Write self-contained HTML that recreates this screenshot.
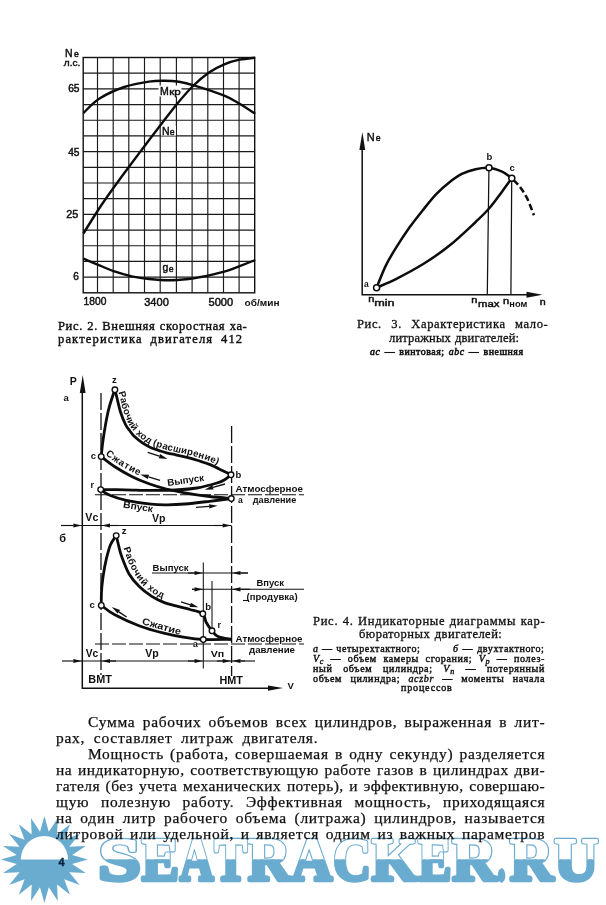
<!DOCTYPE html>
<html lang="ru"><head><meta charset="utf-8"><title>Рис. 2–4</title>
<style>
html,body{margin:0;padding:0;background:#fff;}
body{width:606px;height:905px;overflow:hidden;position:relative;}
svg{position:absolute;left:0;top:0;display:block;}
.bl sub{font-size:0.8em;font-style:italic;vertical-align:-0.2em;line-height:0;}
.bl{position:absolute;white-space:nowrap;font-family:"Liberation Serif",serif;color:#111;text-align:justify;text-align-last:justify;transform-origin:0 0;white-space:normal;overflow:visible;}

</style></head><body>
<svg width="606" height="905" viewBox="0 0 606 905">
<rect width="606" height="905" fill="#fff"/>
<g id="figures">
<path d="M97.50 57.50V292.80M113.20 57.50V292.80M128.80 57.50V292.80M144.50 57.50V292.80M160.20 57.50V292.80M176.40 57.50V292.80M192.10 57.50V292.80M207.80 57.50V292.80M223.50 57.50V292.80M239.10 57.50V292.80M83.20 73.19H254.70M83.20 88.87H254.70M83.20 104.56H254.70M83.20 120.25H254.70M83.20 135.93H254.70M83.20 151.62H254.70M83.20 167.31H254.70M83.20 182.99H254.70M83.20 198.68H254.70M83.20 214.37H254.70M83.20 230.05H254.70M83.20 245.74H254.70M83.20 261.43H254.70M83.20 277.11H254.70" stroke="#1a1a1a" stroke-width="1.15" fill="none"/>
<rect x="83.2" y="57.5" width="171.5" height="235.3" stroke="#111" stroke-width="1.4" fill="none"/>
<rect x="158.5" y="85.5" width="23" height="11" fill="#fff"/>
<rect x="161" y="126" width="15" height="9.6" fill="#fff"/>
<rect x="161.5" y="262" width="13" height="11.5" fill="#fff"/>
<path d="M83.4 233.5 C86.1 229.2 94.5 215.6 99.5 208.0 C104.5 200.4 108.5 194.9 113.4 188.0 C118.4 181.1 123.9 173.6 129.2 166.5 C134.5 159.4 139.7 152.5 145.0 145.5 C150.3 138.5 155.7 131.4 161.0 124.5 C166.3 117.6 171.7 110.4 177.0 104.0 C182.3 97.6 187.7 91.2 193.0 86.0 C198.3 80.8 203.8 76.1 209.0 72.5 C214.2 68.9 219.2 66.4 224.3 64.3 C229.4 62.2 234.3 60.8 239.5 59.7 C244.7 58.6 252.6 58.0 255.2 57.7" stroke="#0c0c0c" stroke-width="2.4" fill="none" stroke-linecap="butt"/>
<path d="M83.4 113.0 C86.1 110.6 92.7 102.8 99.5 98.5 C106.3 94.2 116.0 89.8 124.3 87.0 C132.6 84.2 142.2 82.6 149.0 81.6 C155.8 80.6 160.0 80.8 165.0 80.8 C170.0 80.8 174.1 81.0 179.0 81.8 C183.9 82.6 187.0 83.3 194.6 85.6 C202.2 87.9 216.7 92.6 224.3 95.7 C231.9 98.8 234.8 101.0 240.0 104.0 C245.2 107.0 252.7 112.2 255.2 113.8" stroke="#0c0c0c" stroke-width="2.4" fill="none" stroke-linecap="butt"/>
<path d="M83.4 258.7 C86.1 259.8 94.3 263.3 99.5 265.4 C104.7 267.5 109.0 269.6 114.4 271.4 C119.8 273.2 125.9 275.0 131.7 276.3 C137.5 277.6 142.8 278.4 149.0 279.0 C155.2 279.6 162.2 280.2 168.8 280.2 C175.4 280.2 183.5 279.5 188.6 279.0 C193.7 278.5 193.6 278.5 199.5 277.3 C205.4 276.1 217.7 273.4 224.3 271.6 C230.9 269.8 233.9 268.2 239.1 266.3 C244.2 264.4 252.5 261.1 255.2 260.0" stroke="#0c0c0c" stroke-width="2.4" fill="none" stroke-linecap="butt"/>
<path d="M362.2 148V294.8H530" stroke="#111" stroke-width="1.5" fill="none"/>
<polygon points="362.4,132 365.2,150 359.4,150" fill="#111"/>
<polygon points="542.5,294.8 526.5,291.8 526.5,297.8" fill="#111"/>
<path d="M488.9 170L487.3 294M511.7 181L510.9 294" stroke="#111" stroke-width="1.25" fill="none"/>
<path d="M376.6 287.7 C378.1 284.0 382.5 272.4 385.8 265.6 C389.1 258.8 392.4 253.5 396.4 247.1 C400.4 240.7 405.2 233.5 409.6 227.3 C414.0 221.2 418.4 215.7 422.8 210.2 C427.2 204.7 431.6 198.9 436.0 194.3 C440.4 189.7 444.8 185.8 449.2 182.4 C453.6 179.0 458.0 175.9 462.4 173.7 C466.8 171.5 471.2 170.2 475.6 169.2 C480.0 168.2 484.6 167.4 489.0 167.8 C493.4 168.2 498.2 170.0 502.0 171.7 C505.8 173.4 510.2 177.1 511.8 178.2" stroke="#0c0c0c" stroke-width="2.5" fill="none"/>
<path d="M376.6 287.7 C379.9 286.2 388.7 282.7 396.4 278.8 C404.1 274.9 414.0 269.8 422.8 264.3 C431.6 258.8 440.4 252.9 449.2 245.8 C458.0 238.8 469.0 228.2 475.6 222.0 C482.2 215.8 484.4 213.9 488.8 208.8 C493.2 203.8 498.2 196.8 502.0 191.7 C505.8 186.6 510.2 180.4 511.8 178.2" stroke="#0c0c0c" stroke-width="2.5" fill="none"/>
<path d="M513.5 180.0 C514.6 181.2 517.8 184.0 520.0 187.0 C522.2 190.0 524.7 193.3 527.0 198.0 C529.3 202.7 532.8 212.4 534.0 215.3" stroke="#0c0c0c" stroke-width="2.5" fill="none" stroke-dasharray="6.5 3.2"/>
<circle cx="376.6" cy="287.7" r="3.0" fill="#fff" stroke="#0c0c0c" stroke-width="1.5"/>
<circle cx="489.0" cy="167.8" r="3.0" fill="#fff" stroke="#0c0c0c" stroke-width="1.5"/>
<circle cx="511.8" cy="178.2" r="3.0" fill="#fff" stroke="#0c0c0c" stroke-width="1.5"/>
<path d="M82.3 390V688.2H270" stroke="#111" stroke-width="1.5" fill="none"/>
<polygon points="82.7,375 85.6,393 79.8,393" fill="#111"/>
<polygon points="283,688 268,685.4 268,690.8" fill="#111"/>
<path d="M101 393V675" stroke="#111" stroke-width="1.3" fill="none" stroke-dasharray="17 3"/>
<path d="M231.6 426V676" stroke="#111" stroke-width="1.3" fill="none" stroke-dasharray="17 3"/>
<path d="M95 494.8H304" stroke="#111" stroke-width="1.1" fill="none" stroke-dasharray="14 3"/>
<path d="M95 644H304" stroke="#111" stroke-width="1.1" fill="none" stroke-dasharray="14 3"/>
<path d="M101.2 456.6 C101.5 453.7 102.1 446.4 103.2 439.0 C104.3 431.6 106.4 419.3 108.0 412.0 C109.6 404.7 111.8 398.7 113.0 395.0 C114.2 391.3 114.6 390.7 114.9 389.8" stroke="#0c0c0c" stroke-width="2.8" fill="none"/>
<path d="M114.9 389.8 C115.2 391.2 116.1 394.3 117.0 398.0 C117.9 401.7 119.1 407.6 120.5 412.0 C121.9 416.4 124.0 421.4 125.5 424.5 C127.0 427.6 128.1 428.5 129.6 430.5 C131.1 432.5 132.3 434.5 134.5 436.6 C136.7 438.7 140.1 441.4 142.8 443.2 C145.6 445.0 148.2 446.5 151.0 447.7 C153.8 448.9 156.6 449.7 159.3 450.6 C162.1 451.5 164.8 452.4 167.5 453.1 C170.2 453.8 172.9 454.2 175.8 454.8 C178.7 455.4 181.3 455.9 185.0 456.9 C188.7 457.8 193.9 459.2 198.0 460.5 C202.1 461.8 205.1 462.6 209.5 464.4 C213.9 466.2 220.8 469.8 224.4 471.5 C228.0 473.2 229.9 474.2 231.0 474.8" stroke="#0c0c0c" stroke-width="2.8" fill="none"/>
<path d="M101.2 456.6 C103.4 458.2 109.3 463.2 114.4 466.5 C119.5 469.8 125.9 473.5 131.7 476.4 C137.5 479.3 143.2 481.6 149.0 483.7 C154.8 485.8 160.3 487.5 166.3 489.0 C172.3 490.5 177.6 491.6 184.8 492.8 C192.0 494.1 201.8 495.6 209.5 496.5 C217.2 497.4 227.7 498.2 231.3 498.5" stroke="#0c0c0c" stroke-width="2.8" fill="none"/>
<path d="M231.0 474.8 C230.0 475.6 227.3 478.1 225.0 479.5 C222.7 480.9 221.7 481.6 217.0 483.0 C212.3 484.4 204.0 486.8 197.0 488.0 C190.0 489.2 182.8 489.6 175.0 490.0 C167.2 490.4 158.3 490.4 150.0 490.4 C141.7 490.4 133.2 489.9 125.0 489.8 C116.8 489.7 104.8 489.6 100.7 489.6" stroke="#0c0c0c" stroke-width="2.8" fill="none"/>
<path d="M100.7 489.6 C102.2 490.6 105.5 493.5 109.8 495.3 C114.1 497.1 119.4 498.9 126.3 500.4 C133.2 501.9 144.1 503.5 151.0 504.2 C157.9 504.9 161.8 504.8 167.5 504.8 C173.2 504.8 178.0 504.6 185.0 504.0 C192.0 503.4 201.8 502.2 209.5 501.3 C217.2 500.4 227.7 499.0 231.3 498.5" stroke="#0c0c0c" stroke-width="2.8" fill="none"/>
<path d="M101.3 605.4 C101.3 602.9 101.2 595.4 101.6 590.3 C101.9 585.1 102.6 579.8 103.4 574.5 C104.2 569.2 105.2 563.7 106.4 558.7 C107.6 553.8 108.9 548.6 110.5 544.8 C112.1 540.9 115.2 537.1 116.2 535.6" stroke="#0c0c0c" stroke-width="2.8" fill="none"/>
<path d="M116.2 535.6 C116.6 537.2 117.6 541.5 118.5 545.0 C119.4 548.5 119.9 551.8 121.7 556.6 C123.5 561.4 126.2 569.0 129.1 574.0 C132.0 579.0 135.3 582.6 139.0 586.3 C142.7 590.0 147.3 593.5 151.4 596.2 C155.5 598.9 159.3 600.7 163.8 602.4 C168.3 604.1 174.2 605.4 178.6 606.6 C183.0 607.8 186.0 608.3 190.0 609.5 C194.0 610.7 200.1 611.7 202.8 613.8 C205.5 615.9 204.5 619.2 206.0 622.0 C207.5 624.8 210.0 628.4 212.0 630.8 C214.0 633.2 214.7 635.1 218.0 636.5 C221.3 637.9 229.5 638.9 231.8 639.4" stroke="#0c0c0c" stroke-width="2.8" fill="none"/>
<path d="M101.3 605.4 C103.5 606.9 108.0 611.1 114.3 614.5 C120.6 617.9 130.8 622.6 139.0 625.7 C147.2 628.8 156.2 631.2 163.8 633.1 C171.4 635.0 178.2 636.3 184.8 637.4 C191.4 638.5 195.5 639.2 203.3 639.5 C211.1 639.8 227.1 639.4 231.8 639.4" stroke="#0c0c0c" stroke-width="2.8" fill="none"/>
<path d="M203.3 562.5V668.5M212 581V628" stroke="#111" stroke-width="1.05" fill="none"/>
<path d="M75 525.5H231.6" stroke="#111" stroke-width="1.1"/>
<line x1="61.0" y1="525.5" x2="73.3" y2="525.5" stroke="#111" stroke-width="1.15"/><polygon points="81.8,525.5 73.3,527.6 73.3,523.4" fill="#111"/>
<line x1="118.0" y1="525.5" x2="110.0" y2="525.5" stroke="#111" stroke-width="1.15"/><polygon points="101.5,525.5 110.0,523.4 110.0,527.6" fill="#111"/>
<line x1="214.0" y1="525.5" x2="222.7" y2="525.5" stroke="#111" stroke-width="1.15"/><polygon points="231.2,525.5 222.7,527.6 222.7,523.4" fill="#111"/>
<path d="M75 661H245" stroke="#111" stroke-width="1.1"/>
<line x1="62.0" y1="661.0" x2="73.3" y2="661.0" stroke="#111" stroke-width="1.15"/><polygon points="81.8,661.0 73.3,663.1 73.3,658.9" fill="#111"/>
<line x1="116.0" y1="661.0" x2="110.0" y2="661.0" stroke="#111" stroke-width="1.15"/><polygon points="101.5,661.0 110.0,658.9 110.0,663.1" fill="#111"/>
<line x1="188.0" y1="661.0" x2="194.5" y2="661.0" stroke="#111" stroke-width="1.15"/><polygon points="203.0,661.0 194.5,663.1 194.5,658.9" fill="#111"/>
<line x1="217.0" y1="661.0" x2="222.7" y2="661.0" stroke="#111" stroke-width="1.15"/><polygon points="231.2,661.0 222.7,663.1 222.7,658.9" fill="#111"/>
<line x1="255.0" y1="661.0" x2="240.5" y2="661.0" stroke="#111" stroke-width="1.15"/><polygon points="232.0,661.0 240.5,658.9 240.5,663.1" fill="#111"/>
<path d="M152 573H248" stroke="#111" stroke-width="1.1"/>
<line x1="188.0" y1="573.0" x2="194.5" y2="573.0" stroke="#111" stroke-width="1.15"/><polygon points="203.0,573.0 194.5,575.1 194.5,570.9" fill="#111"/>
<line x1="248.0" y1="573.0" x2="240.5" y2="573.0" stroke="#111" stroke-width="1.15"/><polygon points="232.0,573.0 240.5,570.9 240.5,575.1" fill="#111"/>
<path d="M192 589.3H304" stroke="#111" stroke-width="1.1"/>
<line x1="192.0" y1="589.3" x2="194.5" y2="589.3" stroke="#111" stroke-width="1.15"/><polygon points="203.0,589.3 194.5,591.4 194.5,587.2" fill="#111"/>
<line x1="250.0" y1="589.3" x2="240.5" y2="589.3" stroke="#111" stroke-width="1.15"/><polygon points="232.0,589.3 240.5,587.2 240.5,591.4" fill="#111"/>
<path d="M243 600.5H249" stroke="#111" stroke-width="1.1"/>
<line x1="147.7" y1="452.3" x2="159.4" y2="456.2" stroke="#111" stroke-width="1.40"/><polygon points="167.5,458.9 158.7,458.3 160.1,454.1" fill="#111"/>
<line x1="160.0" y1="480.3" x2="148.5" y2="476.9" stroke="#111" stroke-width="1.40"/><polygon points="140.3,474.5 149.1,474.8 147.8,479.0" fill="#111"/>
<line x1="225.0" y1="484.0" x2="212.9" y2="487.4" stroke="#111" stroke-width="1.40"/><polygon points="204.7,489.7 212.3,485.3 213.5,489.5" fill="#111"/>
<line x1="196.1" y1="507.4" x2="209.1" y2="506.4" stroke="#111" stroke-width="1.40"/><polygon points="217.6,505.8 209.3,508.6 209.0,504.2" fill="#111"/>
<line x1="126.6" y1="617.0" x2="118.8" y2="611.8" stroke="#111" stroke-width="1.40"/><polygon points="111.8,607.0 120.1,609.9 117.6,613.6" fill="#111"/>
<line x1="181.0" y1="601.9" x2="190.3" y2="604.8" stroke="#111" stroke-width="1.40"/><polygon points="198.4,607.3 189.6,606.9 190.9,602.7" fill="#111"/>
<circle cx="114.9" cy="389.8" r="2.8" fill="#fff" stroke="#0c0c0c" stroke-width="1.35"/>
<circle cx="101.2" cy="456.6" r="2.8" fill="#fff" stroke="#0c0c0c" stroke-width="1.35"/>
<circle cx="100.7" cy="489.6" r="2.8" fill="#fff" stroke="#0c0c0c" stroke-width="1.35"/>
<circle cx="231.0" cy="474.8" r="2.8" fill="#fff" stroke="#0c0c0c" stroke-width="1.35"/>
<circle cx="231.3" cy="498.5" r="2.8" fill="#fff" stroke="#0c0c0c" stroke-width="1.35"/>
<circle cx="116.2" cy="535.6" r="2.8" fill="#fff" stroke="#0c0c0c" stroke-width="1.35"/>
<circle cx="101.3" cy="605.4" r="2.8" fill="#fff" stroke="#0c0c0c" stroke-width="1.35"/>
<circle cx="202.8" cy="613.8" r="2.8" fill="#fff" stroke="#0c0c0c" stroke-width="1.35"/>
<circle cx="212.0" cy="630.8" r="2.8" fill="#fff" stroke="#0c0c0c" stroke-width="1.35"/>
<circle cx="203.3" cy="639.5" r="2.8" fill="#fff" stroke="#0c0c0c" stroke-width="1.35"/>
<path id="tpA" d="M118.5 392.3 L118.8 393.4 L119.1 394.6 L119.5 395.9 L119.8 397.3 L120.2 398.8 L120.6 400.5 L121.0 402.2 L121.4 404.1 L121.8 405.9 L122.3 407.7 L122.8 409.5 L123.3 411.1 L123.8 412.7 L124.4 414.4 L125.0 416.0 L125.7 417.7 L126.3 419.2 L126.9 420.7 L127.5 422.0 L128.1 423.2 L128.6 424.2 L129.0 424.9 L129.5 425.6 L129.9 426.2 L130.3 426.7 L130.8 427.3 L131.3 428.0 L131.9 428.8 L132.5 429.6 L133.0 430.3 L133.6 431.0 L134.1 431.8 L134.6 432.5 L135.2 433.1 L135.8 433.8 L136.5 434.5 L137.3 435.3 L138.2 436.1 L139.2 436.9 L140.2 437.7 L141.3 438.6 L142.4 439.3 L143.4 440.1 L144.4 440.8 L145.4 441.4 L146.4 442.0 L147.3 442.6 L148.3 443.1 L149.3 443.6 L150.2 444.1 L151.2 444.6 L152.2 445.0 L153.1 445.5 L154.1 445.8 L155.1 446.2 L156.1 446.5 L157.1 446.9 L158.1 447.2 L159.1 447.5 L160.2 447.8 L161.2 448.2 L162.2 448.5 L163.3 448.8 L164.3 449.2 L165.3 449.5 L166.2 449.8 L167.2 450.0 L168.2 450.3 L169.2 450.5 L170.1 450.7 L171.1 450.9 L172.1 451.1 L173.2 451.3 L174.2 451.5 L175.3 451.7 L176.4 452.0 L177.5 452.2 L178.6 452.4 L179.6 452.7 L180.7 452.9 L181.9 453.2 L183.1 453.4 L184.4 453.7 L185.7 454.1 L187.2 454.5 L188.8 454.9 L190.4 455.3 L192.1 455.8 L193.9 456.3 L195.6 456.8 L197.2 457.2 L198.8 457.7 L200.3 458.2 L201.7 458.6 L203.1 459.0 L204.5 459.5 L205.9 459.9 L207.4 460.5 L209.0 461.1 L210.6 461.7 L212.4 462.5 L214.4 463.4 L216.5 464.4 L218.5 465.4 L220.6 466.4 L222.5 467.3 L224.2 468.2 L225.7 468.9 L226.9 469.5 L228.1 470.1 L229.1 470.6 L229.9 471.0 L230.7 471.4 L231.3 471.7 L231.9 472.0 L232.3 472.2" fill="none"/>
<path id="tpC" d="M105.2 454.6 C107.1 456.0 111.7 459.9 116.4 463.0 C121.2 466.1 127.9 470.0 133.7 472.9 C139.5 475.8 148.1 479.0 151.0 480.2" fill="none"/>
<path id="tpB" d="M123.5 548.0 C124.2 550.2 126.2 556.7 128.0 561.0 C129.8 565.3 131.9 569.8 134.5 574.0 C137.1 578.2 140.1 582.6 143.5 586.0 C146.9 589.4 151.2 592.2 155.0 594.5 C158.8 596.8 164.2 599.1 166.0 600.0" fill="none"/>
</g>
<g id="labels" fill="#111">
<text x="64.9" y="56.5" font-family="&quot;Liberation Sans&quot;, sans-serif" font-size="10.50" stroke="#111" stroke-width="0.45">N</text>
<text x="74.0" y="56.8" font-family="&quot;Liberation Sans&quot;, sans-serif" font-size="8.70" stroke="#111" stroke-width="0.45">е</text>
<text x="63.8" y="65.7" font-family="&quot;Liberation Sans&quot;, sans-serif" font-size="9.50" textLength="16.5" lengthAdjust="spacingAndGlyphs" stroke="#111" stroke-width="0.45">л.с.</text>
<text x="68.2" y="92.1" font-family="&quot;Liberation Sans&quot;, sans-serif" font-size="10.00" textLength="11.3" lengthAdjust="spacingAndGlyphs" stroke="#111" stroke-width="0.45">65</text>
<text x="68.2" y="156.4" font-family="&quot;Liberation Sans&quot;, sans-serif" font-size="10.00" textLength="11.3" lengthAdjust="spacingAndGlyphs" stroke="#111" stroke-width="0.45">45</text>
<text x="66.2" y="218.4" font-family="&quot;Liberation Sans&quot;, sans-serif" font-size="10.00" textLength="12.0" lengthAdjust="spacingAndGlyphs" stroke="#111" stroke-width="0.45">25</text>
<text x="73.2" y="280.3" font-family="&quot;Liberation Sans&quot;, sans-serif" font-size="10.00" stroke="#111" stroke-width="0.45">6</text>
<text x="83.6" y="304.8" font-family="&quot;Liberation Sans&quot;, sans-serif" font-size="10.40" textLength="22.8" lengthAdjust="spacingAndGlyphs" stroke="#111" stroke-width="0.45">1800</text>
<text x="144.2" y="306.3" font-family="&quot;Liberation Sans&quot;, sans-serif" font-size="10.40" textLength="24.6" lengthAdjust="spacingAndGlyphs" stroke="#111" stroke-width="0.45">3400</text>
<text x="208.5" y="306.3" font-family="&quot;Liberation Sans&quot;, sans-serif" font-size="10.40" textLength="24.6" lengthAdjust="spacingAndGlyphs" stroke="#111" stroke-width="0.45">5000</text>
<text x="244.5" y="306.3" font-family="&quot;Liberation Sans&quot;, sans-serif" font-size="9.30" textLength="35.0" lengthAdjust="spacingAndGlyphs" font-weight="bold">об/мин</text>
<text x="159.9" y="94.5" font-family="&quot;Liberation Sans&quot;, sans-serif" font-size="10.50" stroke="#111" stroke-width="0.45">М</text>
<text x="169.3" y="94.6" font-family="&quot;Liberation Sans&quot;, sans-serif" font-size="9.50" textLength="11.5" lengthAdjust="spacingAndGlyphs" stroke="#111" stroke-width="0.45">кр</text>
<text x="161.9" y="134.7" font-family="&quot;Liberation Sans&quot;, sans-serif" font-size="10.50" stroke="#111" stroke-width="0.45">N</text>
<text x="169.8" y="134.9" font-family="&quot;Liberation Sans&quot;, sans-serif" font-size="8.70" stroke="#111" stroke-width="0.45">е</text>
<text x="162.6" y="270.5" font-family="&quot;Liberation Sans&quot;, sans-serif" font-size="10.50" stroke="#111" stroke-width="0.45">g</text>
<text x="168.7" y="272.4" font-family="&quot;Liberation Sans&quot;, sans-serif" font-size="8.70" stroke="#111" stroke-width="0.45">е</text>
<text x="366.8" y="141.0" font-family="&quot;Liberation Sans&quot;, sans-serif" font-size="11.00" stroke="#111" stroke-width="0.45">N</text>
<text x="375.7" y="141.2" font-family="&quot;Liberation Sans&quot;, sans-serif" font-size="8.70" stroke="#111" stroke-width="0.45">е</text>
<text x="486.5" y="160.0" font-family="&quot;Liberation Sans&quot;, sans-serif" font-size="9.50" font-weight="bold">b</text>
<text x="509.5" y="170.5" font-family="&quot;Liberation Sans&quot;, sans-serif" font-size="9.50" font-weight="bold">c</text>
<text x="364.0" y="287.0" font-family="&quot;Liberation Sans&quot;, sans-serif" font-size="8.50" font-weight="bold">a</text>
<text transform="translate(368.2,302.0) scale(1.300,1)" font-family="&quot;Liberation Sans&quot;, sans-serif" font-size="8.50" stroke="#111" stroke-width="0.45">n</text>
<text x="374.2" y="306.4" font-family="&quot;Liberation Sans&quot;, sans-serif" font-size="9.20" textLength="20.4" lengthAdjust="spacingAndGlyphs" stroke="#111" stroke-width="0.45">min</text>
<text transform="translate(471.2,303.2) scale(1.300,1)" font-family="&quot;Liberation Sans&quot;, sans-serif" font-size="8.50" stroke="#111" stroke-width="0.45">n</text>
<text x="478.0" y="306.8" font-family="&quot;Liberation Sans&quot;, sans-serif" font-size="9.20" textLength="21.5" lengthAdjust="spacingAndGlyphs" stroke="#111" stroke-width="0.45">max</text>
<text transform="translate(502.9,303.8) scale(1.300,1)" font-family="&quot;Liberation Sans&quot;, sans-serif" font-size="8.50" stroke="#111" stroke-width="0.45">n</text>
<text x="509.3" y="306.6" font-family="&quot;Liberation Sans&quot;, sans-serif" font-size="8.30" textLength="18.0" lengthAdjust="spacingAndGlyphs" font-weight="bold">ном</text>
<text transform="translate(539.8,304.8) scale(1.250,1)" font-family="&quot;Liberation Sans&quot;, sans-serif" font-size="8.50" stroke="#111" stroke-width="0.45">n</text>
<text x="69.8" y="385.2" font-family="&quot;Liberation Sans&quot;, sans-serif" font-size="10.50" font-weight="bold">P</text>
<text x="63.6" y="401.0" font-family="&quot;Liberation Sans&quot;, sans-serif" font-size="9.50" font-weight="bold">a</text>
<text x="112.0" y="383.0" font-family="&quot;Liberation Sans&quot;, sans-serif" font-size="9.50" font-weight="bold">z</text>
<text x="90.8" y="459.3" font-family="&quot;Liberation Sans&quot;, sans-serif" font-size="9.50" font-weight="bold">c</text>
<text x="90.6" y="487.6" font-family="&quot;Liberation Sans&quot;, sans-serif" font-size="9.00" font-weight="bold">r</text>
<text x="235.5" y="478.0" font-family="&quot;Liberation Sans&quot;, sans-serif" font-size="9.50" font-weight="bold">b</text>
<text x="238.0" y="502.7" font-family="&quot;Liberation Sans&quot;, sans-serif" font-size="8.50" font-weight="bold">a</text>
<text x="235.5" y="492.0" font-family="&quot;Liberation Sans&quot;, sans-serif" font-size="9.60" textLength="67.5" lengthAdjust="spacingAndGlyphs" font-weight="bold">Атмосферное</text>
<text x="252.8" y="502.6" font-family="&quot;Liberation Sans&quot;, sans-serif" font-size="9.60" textLength="43.5" lengthAdjust="spacingAndGlyphs" font-weight="bold">давление</text>
<text x="85.3" y="521.2" font-family="&quot;Liberation Sans&quot;, sans-serif" font-size="10.50" textLength="13.0" lengthAdjust="spacingAndGlyphs" font-weight="bold">Vc</text>
<text x="151.9" y="522.0" font-family="&quot;Liberation Sans&quot;, sans-serif" font-size="10.50" textLength="13.5" lengthAdjust="spacingAndGlyphs" font-weight="bold">Vp</text>
<text x="59.3" y="541.5" font-family="&quot;Liberation Sans&quot;, sans-serif" font-size="11.00" font-weight="bold">б</text>
<text x="121.7" y="534.3" font-family="&quot;Liberation Sans&quot;, sans-serif" font-size="9.50" font-weight="bold">z</text>
<text x="89.5" y="608.4" font-family="&quot;Liberation Sans&quot;, sans-serif" font-size="9.50" font-weight="bold">c</text>
<text x="152.6" y="571.0" font-family="&quot;Liberation Sans&quot;, sans-serif" font-size="9.80" textLength="36.0" lengthAdjust="spacingAndGlyphs" font-weight="bold">Выпуск</text>
<text x="256.5" y="586.0" font-family="&quot;Liberation Sans&quot;, sans-serif" font-size="9.80" textLength="27.5" lengthAdjust="spacingAndGlyphs" font-weight="bold">Впуск</text>
<text x="246.6" y="600.2" font-family="&quot;Liberation Sans&quot;, sans-serif" font-size="9.50" textLength="51.0" lengthAdjust="spacingAndGlyphs" font-weight="bold">(продувка)</text>
<text x="205.3" y="609.8" font-family="&quot;Liberation Sans&quot;, sans-serif" font-size="9.50" font-weight="bold">b</text>
<text x="217.4" y="627.9" font-family="&quot;Liberation Sans&quot;, sans-serif" font-size="9.00" font-weight="bold">r</text>
<text x="193.0" y="647.0" font-family="&quot;Liberation Sans&quot;, sans-serif" font-size="8.50" font-weight="bold">a</text>
<text x="235.5" y="641.6" font-family="&quot;Liberation Sans&quot;, sans-serif" font-size="9.60" textLength="67.0" lengthAdjust="spacingAndGlyphs" font-weight="bold">Атмосферное</text>
<text x="249.0" y="652.8" font-family="&quot;Liberation Sans&quot;, sans-serif" font-size="9.60" textLength="46.0" lengthAdjust="spacingAndGlyphs" font-weight="bold">давление</text>
<text x="85.8" y="656.6" font-family="&quot;Liberation Sans&quot;, sans-serif" font-size="10.00" textLength="12.5" lengthAdjust="spacingAndGlyphs" font-weight="bold">Vc</text>
<text x="145.2" y="656.6" font-family="&quot;Liberation Sans&quot;, sans-serif" font-size="10.00" textLength="13.5" lengthAdjust="spacingAndGlyphs" font-weight="bold">Vp</text>
<text x="210.7" y="657.4" font-family="&quot;Liberation Sans&quot;, sans-serif" font-size="9.50" textLength="13.5" lengthAdjust="spacingAndGlyphs" font-weight="bold">Vп</text>
<text x="88.3" y="682.6" font-family="&quot;Liberation Sans&quot;, sans-serif" font-size="10.00" textLength="23.5" lengthAdjust="spacingAndGlyphs" font-weight="bold">ВМТ</text>
<text x="219.4" y="683.6" font-family="&quot;Liberation Sans&quot;, sans-serif" font-size="10.00" textLength="23.5" lengthAdjust="spacingAndGlyphs" font-weight="bold">НМТ</text>
<text x="287.5" y="688.7" font-family="&quot;Liberation Sans&quot;, sans-serif" font-size="9.50" font-weight="bold">V</text>
<text font-family="&quot;Liberation Sans&quot;, sans-serif" font-size="9.6" font-weight="bold" fill="#111"><textPath href="#tpA" textLength="134" lengthAdjust="spacing">Рабочий ход (расширение)</textPath></text>
<text font-family="&quot;Liberation Sans&quot;, sans-serif" font-size="9.6" font-weight="bold" fill="#111"><textPath href="#tpB" textLength="66" lengthAdjust="spacing">Рабочий ход</textPath></text>
<text font-family="&quot;Liberation Sans&quot;, sans-serif" font-size="9.8" font-weight="bold" fill="#111"><textPath href="#tpC" textLength="40" lengthAdjust="spacing">Сжатие</textPath></text>
<text transform="translate(167.8,486) rotate(-8)" font-family="&quot;Liberation Sans&quot;, sans-serif" font-size="9.6" font-weight="bold" fill="#111" textLength="37" lengthAdjust="spacingAndGlyphs">Выпуск</text>
<text transform="translate(122.8,507.6) rotate(9)" font-family="&quot;Liberation Sans&quot;, sans-serif" font-size="9.6" font-weight="bold" fill="#111" textLength="30" lengthAdjust="spacingAndGlyphs">Впуск</text>
<text transform="translate(141.5,624) rotate(16)" font-family="&quot;Liberation Sans&quot;, sans-serif" font-size="9.6" font-weight="bold" fill="#111" textLength="40" lengthAdjust="spacingAndGlyphs">Сжатие</text>
<text x="58.4" y="866.4" font-family="&quot;Liberation Sans&quot;, sans-serif" font-size="11.00" font-weight="bold" fill="#16324f" stroke="#16324f" stroke-width="0.4">4</text>
</g>
</svg>
<div class="bl" style="left:88.0px;top:713.24px;font-size:15.00px;line-height:18px;letter-spacing:0.72px;transform:scaleX(1.030);width:444.0px;-webkit-text-stroke:0.25px #111;">Сумма рабочих объемов всех цилиндров, выраженная в лит-</div>
<div class="bl" style="left:56.0px;top:729.24px;font-size:15.00px;line-height:18px;letter-spacing:0.72px;transform:scaleX(1.030);width:254.7px;-webkit-text-stroke:0.25px #111;">рах, составляет литраж двигателя.</div>
<div class="bl" style="left:88.0px;top:745.24px;font-size:15.00px;line-height:18px;letter-spacing:0.72px;transform:scaleX(1.030);width:444.0px;-webkit-text-stroke:0.25px #111;">Мощность (работа, совершаемая в одну секунду) разделяется</div>
<div class="bl" style="left:56.0px;top:761.24px;font-size:15.00px;line-height:18px;letter-spacing:0.51px;transform:scaleX(1.030);width:474.9px;-webkit-text-stroke:0.25px #111;">на индикаторную, соответствующую работе газов в цилиндрах дви-</div>
<div class="bl" style="left:56.0px;top:777.24px;font-size:15.00px;line-height:18px;letter-spacing:0.44px;transform:scaleX(1.030);width:474.8px;-webkit-text-stroke:0.25px #111;">гателя (без учета механических потерь), и эффективную, совершаю-</div>
<div class="bl" style="left:56.0px;top:793.24px;font-size:15.00px;line-height:18px;letter-spacing:0.72px;transform:scaleX(1.030);width:475.1px;-webkit-text-stroke:0.25px #111;">щую полезную работу. Эффективная мощность, приходящаяся</div>
<div class="bl" style="left:56.0px;top:809.24px;font-size:15.00px;line-height:18px;letter-spacing:0.72px;transform:scaleX(1.030);width:475.1px;-webkit-text-stroke:0.25px #111;">на один литр рабочего объема (литража) цилиндров, называется</div>
<div class="bl" style="left:56.0px;top:825.24px;font-size:15.00px;line-height:18px;letter-spacing:0.72px;transform:scaleX(1.030);width:475.1px;-webkit-text-stroke:0.25px #111;">литровой или удельной, и является одним из важных параметров</div>
<div class="bl" style="left:58.4px;top:318.78px;font-size:12.20px;line-height:15px;letter-spacing:0.61px;transform:scaleX(1.030);width:183.9px;-webkit-text-stroke:0.40px #111;">Рис. 2. Внешняя скоростная ха-</div>
<div class="bl" style="left:58.4px;top:331.98px;font-size:12.20px;line-height:15px;letter-spacing:1.10px;transform:scaleX(1.030);width:179.9px;-webkit-text-stroke:0.40px #111;">рактеристика двигателя 412</div>
<div class="bl" style="left:357.0px;top:317.38px;font-size:12.20px;line-height:15px;letter-spacing:0.60px;transform:scaleX(1.030);width:185.8px;-webkit-text-stroke:0.30px #111;">Рис. 3. Характеристика мало-</div>
<div class="bl" style="left:389.4px;top:330.58px;font-size:12.20px;line-height:15px;letter-spacing:0.15px;transform:scaleX(1.030);width:126.4px;-webkit-text-stroke:0.30px #111;">литражных двигателей:</div>
<div class="bl" style="left:370.3px;top:345.76px;font-size:9.60px;line-height:12px;letter-spacing:0.50px;transform:scaleX(1.030);width:149.0px;-webkit-text-stroke:0.55px #111;"><i>aс</i> — винтовая; <i>abc</i> — внешняя</div>
<div class="bl" style="left:312.6px;top:614.38px;font-size:12.20px;line-height:15px;letter-spacing:0.69px;transform:scaleX(1.030);width:225.7px;-webkit-text-stroke:0.30px #111;">Рис. 4. Индикаторные диаграммы кар-</div>
<div class="bl" style="left:359.2px;top:626.88px;font-size:12.20px;line-height:15px;letter-spacing:0.44px;transform:scaleX(1.030);width:139.1px;-webkit-text-stroke:0.30px #111;">бюраторных двигателей:</div>
<div class="bl" style="left:313.3px;top:643.23px;font-size:9.70px;line-height:12px;letter-spacing:0.54px;transform:scaleX(1.040);width:103.3px;-webkit-text-stroke:0.40px #111;"><i>а</i> — четырехтактного;</div>
<div class="bl" style="left:453.3px;top:643.23px;font-size:9.70px;line-height:12px;letter-spacing:0.57px;transform:scaleX(1.040);width:88.0px;-webkit-text-stroke:0.40px #111;"><i>б</i> — двухтактного;</div>
<div class="bl" style="left:312.8px;top:653.23px;font-size:9.70px;line-height:12px;letter-spacing:0.60px;transform:scaleX(1.040);width:223.1px;-webkit-text-stroke:0.40px #111;"><i>V</i><sub>c</sub> — объем камеры сгорания; <i>V</i><sub>p</sub> — полез-</div>
<div class="bl" style="left:312.8px;top:663.23px;font-size:9.70px;line-height:12px;letter-spacing:0.60px;transform:scaleX(1.040);width:223.1px;-webkit-text-stroke:0.40px #111;">ный объем цилиндра; <i>V</i><sub>п</sub> — потерянный</div>
<div class="bl" style="left:312.8px;top:672.93px;font-size:9.70px;line-height:12px;letter-spacing:0.60px;transform:scaleX(1.040);width:223.1px;-webkit-text-stroke:0.40px #111;">объем цилиндра; <i>aczbr</i> — моменты начала</div>
<div class="bl" style="left:401.3px;top:682.43px;font-size:9.70px;line-height:12px;letter-spacing:0.78px;transform:scaleX(1.040);width:50.5px;-webkit-text-stroke:0.40px #111;">процессов</div>
<svg width="606" height="905" viewBox="0 0 606 905" style="mix-blend-mode:multiply">
<g id="watermark">
<polygon points="0.9,859.5 16.7,855.1 3.0,846.1 19.5,846.8 9.2,833.9 24.6,839.7 18.8,824.3 31.7,834.6 31.0,818.1 40.0,831.8 44.4,816.0 48.8,831.8 57.8,818.1 57.1,834.6 70.0,824.3 64.2,839.7 79.6,833.9 69.3,846.8 85.8,846.1 72.1,855.1 87.9,859.5 72.1,863.9 85.8,872.9 69.3,872.2 79.6,885.1 64.2,879.3 70.0,894.7 57.1,884.4 57.8,900.9 48.8,887.2 44.4,903.0 40.0,887.2 31.0,900.9 31.7,884.4 18.8,894.7 24.6,879.3 9.2,885.1 19.5,872.2 3.0,872.9 16.7,863.9" fill="#6aabd0"/>
<path d="M20.8 859.5A23.6 23.6 0 0 1 68.0 859.5Z" fill="#fff"/>
<defs><clipPath id="ct"><rect x="90" y="820" width="516" height="39.6"/></clipPath><clipPath id="cb"><rect x="90" y="859.6" width="516" height="45.4"/></clipPath></defs>
<g clip-path="url(#ct)"><text y="880.3" font-family="&quot;Liberation Serif&quot;, serif" font-weight="bold" font-size="62" stroke-linejoin="round" fill="#6aabd0" stroke="#6aabd0" stroke-width="4.4"><tspan x="98.2" textLength="42.6" lengthAdjust="spacingAndGlyphs">S</tspan><tspan x="141.7" textLength="37.1" lengthAdjust="spacingAndGlyphs">E</tspan><tspan x="179.7" textLength="33.9" lengthAdjust="spacingAndGlyphs">A</tspan><tspan x="214.5" textLength="32.6" lengthAdjust="spacingAndGlyphs">T</tspan><tspan x="248.0" textLength="42.7" lengthAdjust="spacingAndGlyphs">R</tspan><tspan x="291.6" textLength="40.7" lengthAdjust="spacingAndGlyphs">A</tspan><tspan x="333.2" textLength="37.7" lengthAdjust="spacingAndGlyphs">C</tspan><tspan x="371.8" textLength="45.5" lengthAdjust="spacingAndGlyphs">K</tspan><tspan x="418.2" textLength="33.1" lengthAdjust="spacingAndGlyphs">E</tspan><tspan x="452.2" textLength="44.4" lengthAdjust="spacingAndGlyphs">R</tspan><tspan x="497.5" textLength="8.1" lengthAdjust="spacingAndGlyphs">.</tspan><tspan x="510.0" textLength="43.3" lengthAdjust="spacingAndGlyphs">R</tspan><tspan x="554.2" textLength="44.1" lengthAdjust="spacingAndGlyphs">U</tspan></text>
<text y="880.3" font-family="&quot;Liberation Serif&quot;, serif" font-weight="bold" font-size="62" stroke-linejoin="round" fill="#fff" stroke="#fff" stroke-width="2.0" aria-hidden="true"><tspan x="98.2" textLength="42.6" lengthAdjust="spacingAndGlyphs">S</tspan><tspan x="141.7" textLength="37.1" lengthAdjust="spacingAndGlyphs">E</tspan><tspan x="179.7" textLength="33.9" lengthAdjust="spacingAndGlyphs">A</tspan><tspan x="214.5" textLength="32.6" lengthAdjust="spacingAndGlyphs">T</tspan><tspan x="248.0" textLength="42.7" lengthAdjust="spacingAndGlyphs">R</tspan><tspan x="291.6" textLength="40.7" lengthAdjust="spacingAndGlyphs">A</tspan><tspan x="333.2" textLength="37.7" lengthAdjust="spacingAndGlyphs">C</tspan><tspan x="371.8" textLength="45.5" lengthAdjust="spacingAndGlyphs">K</tspan><tspan x="418.2" textLength="33.1" lengthAdjust="spacingAndGlyphs">E</tspan><tspan x="452.2" textLength="44.4" lengthAdjust="spacingAndGlyphs">R</tspan><tspan x="497.5" textLength="8.1" lengthAdjust="spacingAndGlyphs">.</tspan><tspan x="510.0" textLength="43.3" lengthAdjust="spacingAndGlyphs">R</tspan><tspan x="554.2" textLength="44.1" lengthAdjust="spacingAndGlyphs">U</tspan></text></g>
<text y="880.3" font-family="&quot;Liberation Serif&quot;, serif" font-weight="bold" font-size="62" stroke-linejoin="round" fill="#6aabd0" stroke="#6aabd0" stroke-width="4.4" clip-path="url(#cb)" aria-hidden="true"><tspan x="98.2" textLength="42.6" lengthAdjust="spacingAndGlyphs">S</tspan><tspan x="141.7" textLength="37.1" lengthAdjust="spacingAndGlyphs">E</tspan><tspan x="179.7" textLength="33.9" lengthAdjust="spacingAndGlyphs">A</tspan><tspan x="214.5" textLength="32.6" lengthAdjust="spacingAndGlyphs">T</tspan><tspan x="248.0" textLength="42.7" lengthAdjust="spacingAndGlyphs">R</tspan><tspan x="291.6" textLength="40.7" lengthAdjust="spacingAndGlyphs">A</tspan><tspan x="333.2" textLength="37.7" lengthAdjust="spacingAndGlyphs">C</tspan><tspan x="371.8" textLength="45.5" lengthAdjust="spacingAndGlyphs">K</tspan><tspan x="418.2" textLength="33.1" lengthAdjust="spacingAndGlyphs">E</tspan><tspan x="452.2" textLength="44.4" lengthAdjust="spacingAndGlyphs">R</tspan><tspan x="497.5" textLength="8.1" lengthAdjust="spacingAndGlyphs">.</tspan><tspan x="510.0" textLength="43.3" lengthAdjust="spacingAndGlyphs">R</tspan><tspan x="554.2" textLength="44.1" lengthAdjust="spacingAndGlyphs">U</tspan></text>
</g>
</svg>
</body></html>
